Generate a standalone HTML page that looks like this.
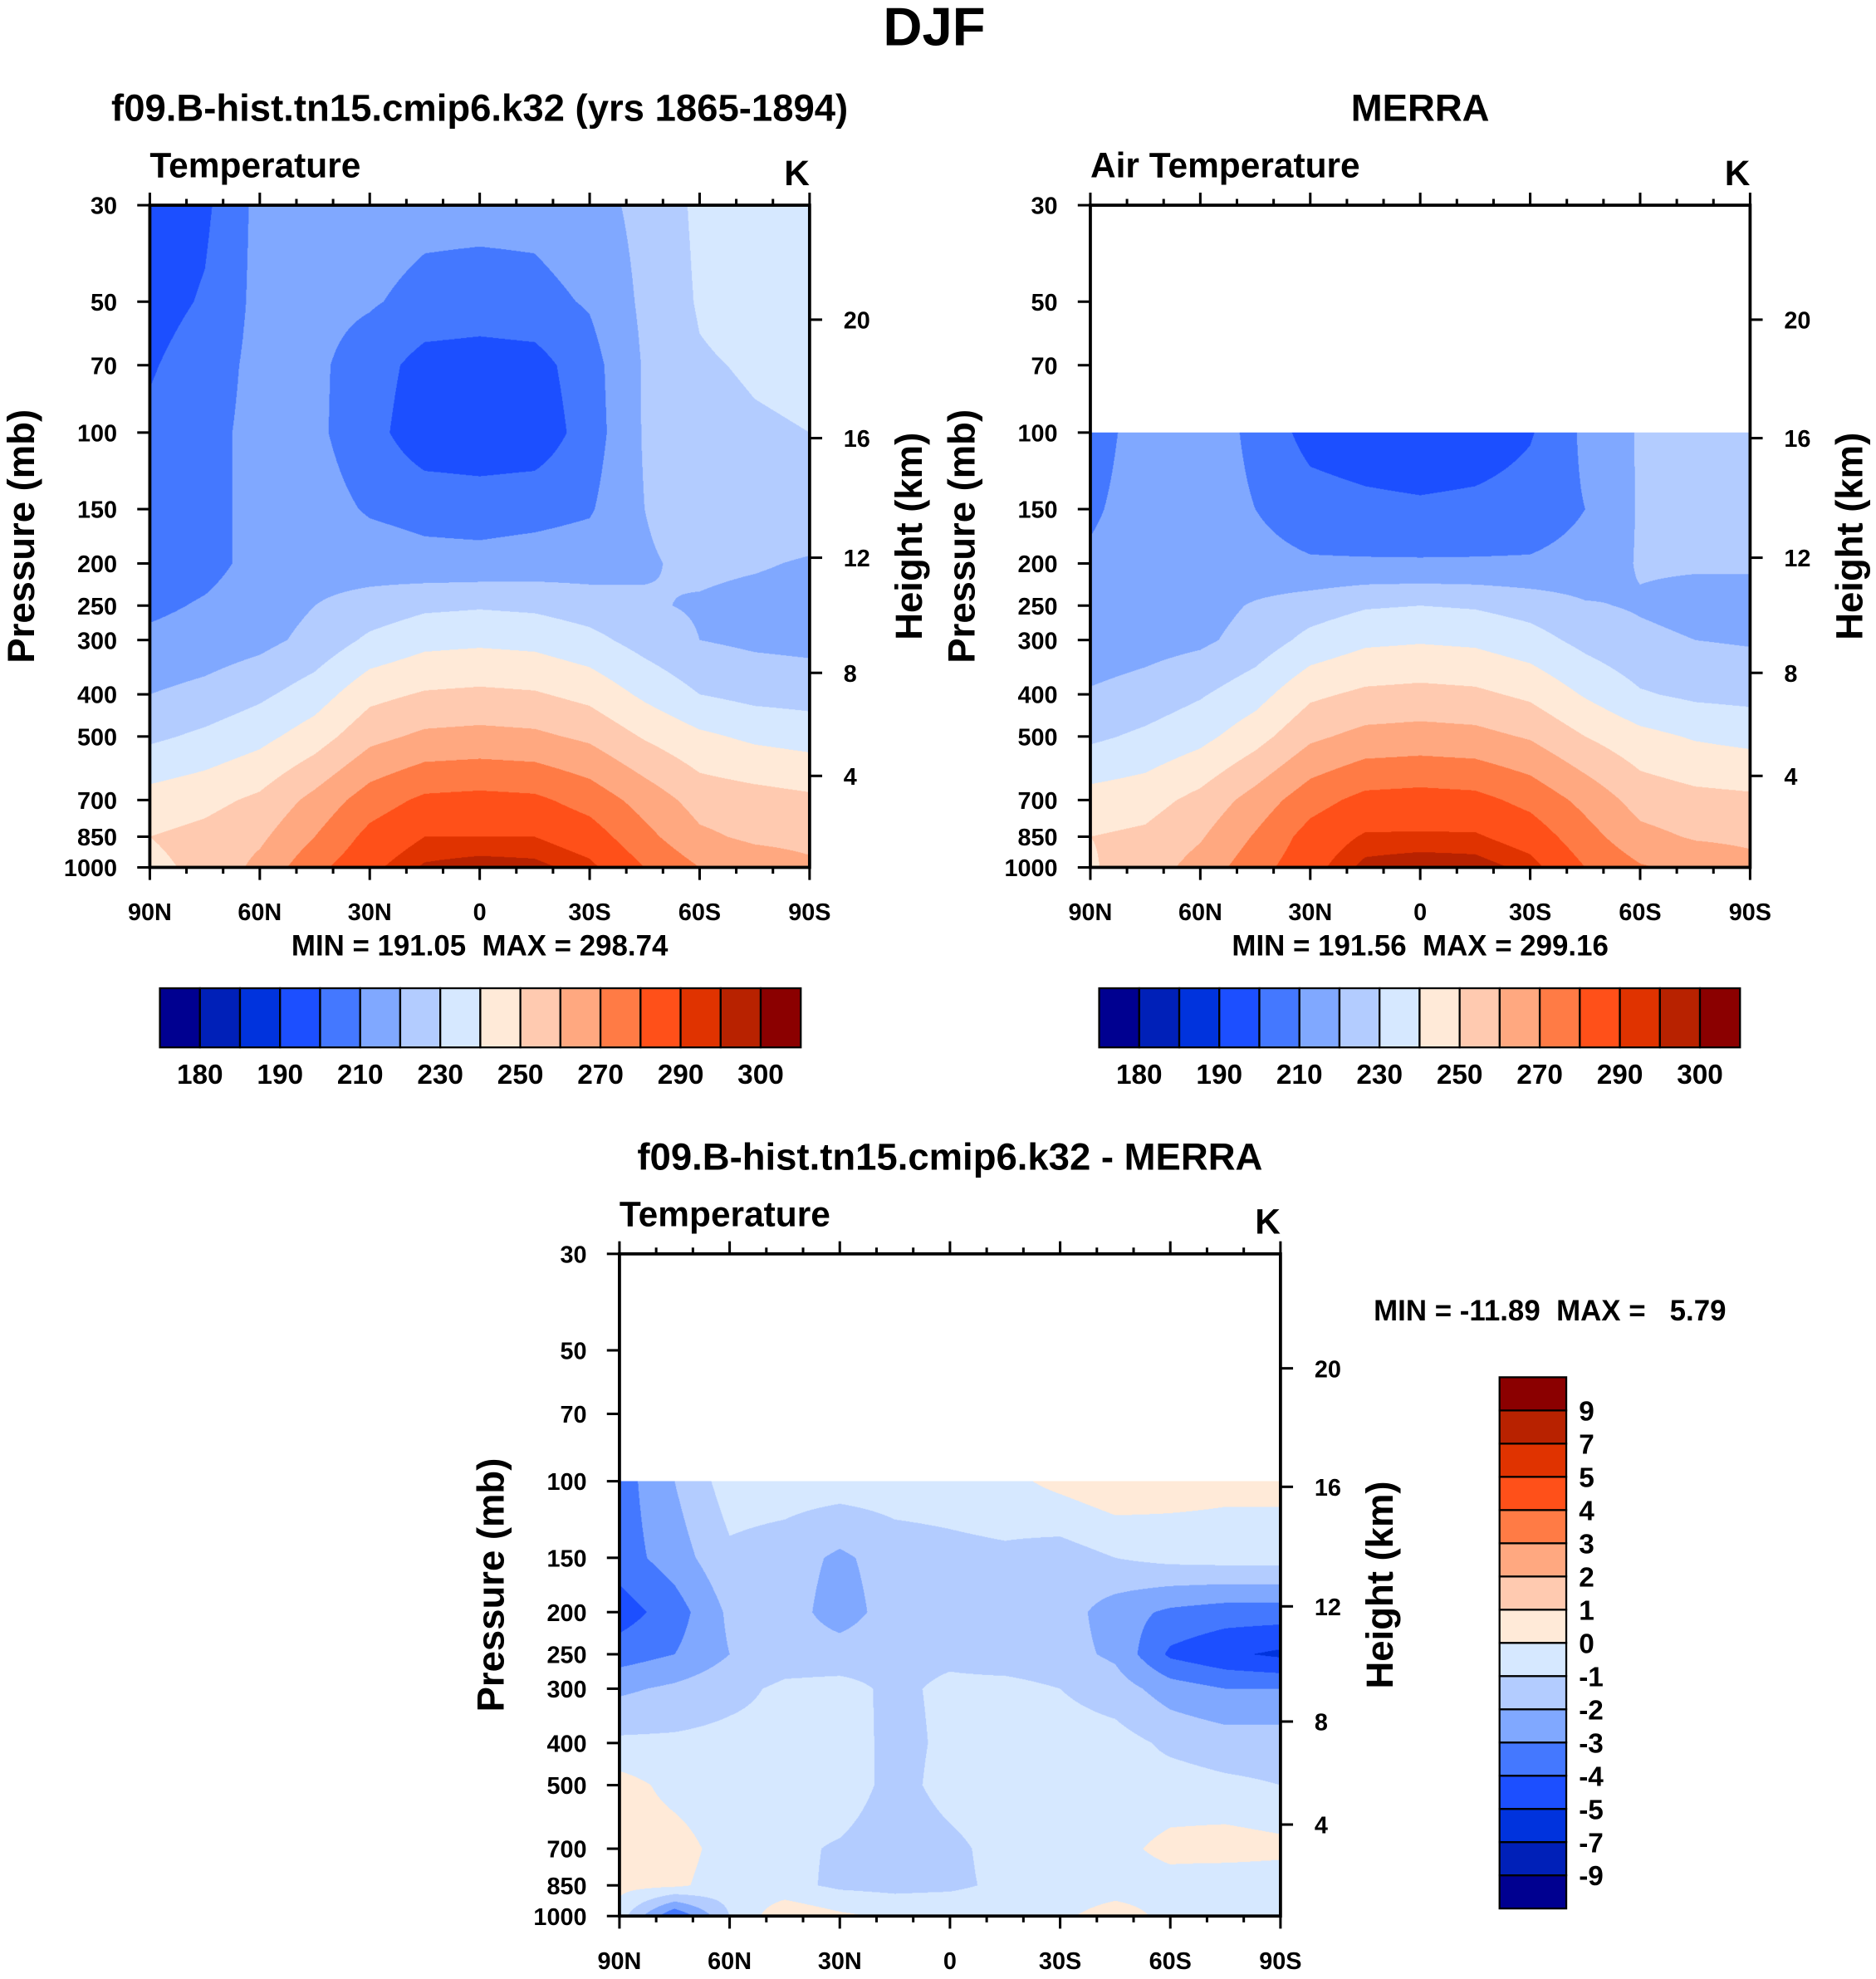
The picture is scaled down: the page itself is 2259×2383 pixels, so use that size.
<!DOCTYPE html>
<html><head><meta charset="utf-8">
<style>
html,body{margin:0;padding:0;background:#fff;width:2259px;height:2383px;overflow:hidden}
#wrap{position:absolute;left:0;top:0;width:1490px;height:1572px;transform:scale(1.51611,1.51590);transform-origin:0 0}
canvas{position:absolute}
svg{position:absolute;left:0;top:0}
text{font-family:"Liberation Sans",sans-serif;font-weight:bold;fill:#000;white-space:pre}
</style></head>
<body>
<div id="wrap">
<canvas id="c1"></canvas>
<canvas id="c2"></canvas>
<canvas id="c3"></canvas>
<svg id="svg" width="1490" height="1572" viewBox="0 0 1490 1572"></svg>
</div>
<script>
// ---- data ----
const lats = [90,75,60,45,30,15,0,-15,-30,-45,-60,-75,-90];
const modelLevels = [30,50,70,100,150,200,250,300,400,500,700,850,1000];
const modelT = [
[194,198,213,215,215,213,213,213,216,223,232,235,236],
[196,201,213,213,211,207,206,207,211,222,231,234,235],
[199,205,213,212,205,196,195,196,206,221,229,231,232],
[202,207,213,212,204,193,192,193,205,221,227,229,230],
[203,207,213,214,209,207,206,207,209,220,225,226,226],
[205,207,213,216,215,213,213,214,215,219,222,221,219],
[208,211,215,220,224,228,229,228,225,221,219,217,216],
[212,214,217,223,232,237,238,237,233,226,220,218,217],
[220,223,228,235,247,251,252,251,247,238,230,227,226],
[228,232,237,245,257,262,263,262,258,249,242,238,236],
[244,247,252,263,275,282,283,282,276,266,256,254,252],
[250,253,258,270,283,290,290,290,285,273,262,258,257],
[248,252,263,277,288,296,298,297,292,280,270,266,262]];
const merraLevels = [100,150,200,250,300,400,500,700,850,1000];
const merraT = [
[207,213,215,208,196,193,191,193,199,212,221,223,223],
[209,213,214,210,205,203,202,203,205,210,221,222,222],
[211,213,214,213,211,211,211,211,211,213,221,221,221],
[211,213,216,221,225,229,230,229,226,221,219,217,217],
[214,216,218,224,233,238,239,238,234,227,222,220,219],
[221,224,229,236,248,252,253,252,248,239,231,228,227],
[228,232,237,246,258,263,264,263,259,250,243,239,237],
[244,246,253,264,276,283,284,283,277,267,256,253,252],
[250,252,259,271,284,291,291,291,286,274,263,259,258],
[249,255,264,276,287,297,299,298,293,280,271,267,263]];
const diffLevels = [100,150,200,250,300,400,500,700,850,1000];
const diffT = [
[-3.5,-2,-0.5,-0.5,-0.5,-0.5,-0.5,-0.3,0.3,0.8,0.5,0.3,0.3],
[-3.5,-2.5,-1.2,-1.5,-2.2,-1.5,-1.3,-1.2,-1.5,-1.0,-0.7,-0.6,-0.6],
[-4.5,-3.5,-1.8,-1.5,-2.5,-1.5,-1.5,-1.5,-1.5,-2.5,-3.2,-3.5,-3.5],
[-3.5,-3,-2,-1.5,-1.5,-1.3,-1.2,-1.5,-1.6,-2.2,-4.2,-4.8,-5.2],
[-2.2,-1.8,-1.3,-0.8,-0.7,-1.2,-0.8,-0.7,-1,-1.5,-2.5,-3,-3],
[-0.8,-0.8,-0.7,-0.7,-0.5,-1.3,-0.8,-0.6,-0.5,-0.6,-1.2,-1.5,-1.5],
[0.4,-0.3,-0.6,-0.7,-0.5,-1.3,-0.7,-0.5,-0.6,-0.7,-0.6,-0.8,-1],
[0.5,0.4,-0.4,-0.8,-1.1,-1.5,-1.2,-0.7,-0.5,-0.3,0.3,0.5,0.3],
[0.3,0.2,-0.5,-0.7,-1.2,-1.3,-1.2,-0.8,-0.6,-0.5,-0.4,-0.8,-0.7],
[-0.5,-4,-1,0.8,0.2,-0.2,-0.2,-0.3,-0.2,0.5,-0.3,-0.3,-0.3]];
const tempBounds = [180,185,190,200,210,220,230,240,250,260,270,280,290,295,300];
const tempTickLabels = ["180","190","210","230","250","270","290","300"];
const diffBounds = [-9,-7,-5,-4,-3,-2,-1,0,1,2,3,4,5,7,9];
const diffTickLabels = ["-9","-7","-5","-4","-3","-2","-1","0","1","2","3","4","5","7","9"];
const colors = ['#000090','#0020b8','#0033dd','#1c4fff','#4478ff','#80a8ff','#b3ccff','#d6e8ff','#ffead8','#ffcab0','#ffa880','#ff7b45','#ff5019','#e03300','#b82200','#8b0000'];
const pTicks = [30,50,70,100,150,200,250,300,400,500,700,850,1000];
const kmTicks = [20,16,12,8,4];
const kmPressure = [55,103,194,357,616];
const latTicks = [90,60,30,0,-30,-60,-90];
const latTickLabels = ["90N","60N","30N","0","30S","60S","90S"];

// ---- helpers ----
const NS="http://www.w3.org/2000/svg";
const svg=document.getElementById('svg');
function mk(tag,attrs,parent){const e=document.createElementNS(NS,tag);for(const k in attrs)e.setAttribute(k,attrs[k]);(parent||svg).appendChild(e);return e;}
function txt(x,y,s,size,anchor,name,rot){const t=mk('text',{x:x,y:y,'font-size':size,'text-anchor':anchor||'middle'});t.textContent=s;


if(rot)t.setAttribute('transform','rotate(-90 '+x+' '+y+')');return t;}
function binIdx(v,b){let i=0;while(i<b.length&&v>=b[i])i++;return i;}
function hex(c){return [parseInt(c.substr(1,2),16),parseInt(c.substr(3,2),16),parseInt(c.substr(5,2),16)];}
const rgb=colors.map(hex);

function panel(cfg){
  const {x0,y0,w,h}=cfg;
  const xS=lat=>x0+(90-lat)/180*w;
  const yS=p=>y0+Math.log(p/30)/Math.log(1000/30)*h;
  const cv=document.getElementById(cfg.canvas);
  const R=2, W=Math.round(w*R), H=Math.round(h*R);
  cv.width=W;cv.height=H;cv.style.left=x0+'px';cv.style.top=y0+'px';cv.style.width=w+'px';cv.style.height=h+'px';
  const ctx=cv.getContext('2d');const img=ctx.createImageData(W,H);
  const lv=cfg.levels.map(p=>Math.log(p));
  for(let py=0;py<H;py++){
    const lp=Math.log(30)+(py+0.5)/H*Math.log(1000/30);
    if(lp<lv[0])continue;
    let j=0;while(j<lv.length-2&&lp>lv[j+1])j++;
    const fy=Math.min(1,Math.max(0,(lp-lv[j])/(lv[j+1]-lv[j])));
    for(let px=0;px<W;px++){
      const lat=90-(px+0.5)/W*180;
      const fi=(90-lat)/15;let i=Math.min(lats.length-2,Math.floor(fi));const fx=fi-i;
      const d=cfg.data;
      const v=(d[j][i]*(1-fx)+d[j][i+1]*fx)*(1-fy)+(d[j+1][i]*(1-fx)+d[j+1][i+1]*fx)*fy;
      const c=rgb[binIdx(v,cfg.bounds)];const o=(py*W+px)*4;
      img.data[o]=c[0];img.data[o+1]=c[1];img.data[o+2]=c[2];img.data[o+3]=255;
    }
  }
  ctx.putImageData(img,0,0);
  const g=mk('g',{});
  
  
  const fr=mk('rect',{x:x0,y:y0,width:w,height:h,fill:'none',stroke:'#000','stroke-width':2.5},g);
  
  
  pTicks.forEach(p=>{const y=yS(p);mk('line',{x1:x0-10,x2:x0,y1:y,y2:y,stroke:'#000','stroke-width':2},g);
    txt(x0-26,y+7,String(p),19,'end','pressure-tick-label');});
  kmTicks.forEach((k,i)=>{const y=yS(kmPressure[i]);mk('line',{x1:x0+w,x2:x0+w+10,y1:y,y2:y,stroke:'#000','stroke-width':2},g);
    txt(x0+w+27,y+7,String(k),19,'start','height-tick-label');});
  for(let lat=90;lat>=-90;lat-=10){const x=xS(lat);const major=lat%30===0;const L=major?10:5;
    mk('line',{x1:x,x2:x,y1:y0,y2:y0-L,stroke:'#000','stroke-width':2},g);
    mk('line',{x1:x,x2:x,y1:y0+h,y2:y0+h+L,stroke:'#000','stroke-width':2},g);}
  latTicks.forEach((lat,i)=>txt(xS(lat),y0+h+42,latTickLabels[i],19,'middle','latitude-tick-label'));
  txt(x0-92,y0+h/2,"Pressure (mb)",30,'middle','y-axis-title',true);
  txt(x0+w+89,y0+h/2,"Height (km)",30,'middle','right-axis-title',true);
  txt(x0,y0-22,cfg.left,28,'start','subtitle-left');
  txt(x0+w,y0-16,"K",28,'end','units-label');
  txt(x0+w/2,y0-67,cfg.title,30,'middle','panel-title');
}

txt(742,36,"DJF",43,'middle','figure-title');
panel({name:'model-panel',canvas:'c1',x0:119,y0:163,w:524,h:526,levels:modelLevels,data:modelT,bounds:tempBounds,title:"f09.B-hist.tn15.cmip6.k32 (yrs 1865-1894)",left:"Temperature"});
panel({name:'merra-panel',canvas:'c2',x0:866,y0:163,w:524,h:526,levels:merraLevels,data:merraT,bounds:tempBounds,title:"MERRA",left:"Air Temperature"});
panel({name:'difference-panel',canvas:'c3',x0:492,y0:996,w:525,h:526,levels:diffLevels,data:diffT,bounds:diffBounds,title:"f09.B-hist.tn15.cmip6.k32 - MERRA",left:"Temperature"});
txt(381,759,"MIN = 191.05  MAX = 298.74",23,'middle','model-min-max');
txt(1128,759,"MIN = 191.56  MAX = 299.16",23,'middle','merra-min-max');
txt(1231,1049,"MIN = -11.89  MAX =   5.79",23,'middle','difference-min-max');

function hbar(x0,name){
  const y0=785,w=509,h=47,bw=w/colors.length;
  colors.forEach((c,i)=>{const r=mk('rect',{x:x0+i*bw,y:y0,width:bw,height:h,fill:c,stroke:'#000','stroke-width':1.5});
    
    });
  tempTickLabels.forEach((s,k)=>txt(x0+(2*k+1)*bw,y0+76,s,22,'middle',name+'-label'));
}
hbar(127,'model-colorbar');
hbar(873,'merra-colorbar');
(function(){
  const x0=1191,y0=1094,w=53,h=422,bh=h/colors.length;
  colors.forEach((c,i)=>{const r=mk('rect',{x:x0,y:y0+(colors.length-1-i)*bh,width:w,height:bh,fill:c,stroke:'#000','stroke-width':1.5});
    
    });
  diffTickLabels.forEach((s,k)=>txt(x0+w+10,y0+h-(k+1)*bh+8,s,22,'start','difference-colorbar-label'));
})();
</script>
</body></html>
